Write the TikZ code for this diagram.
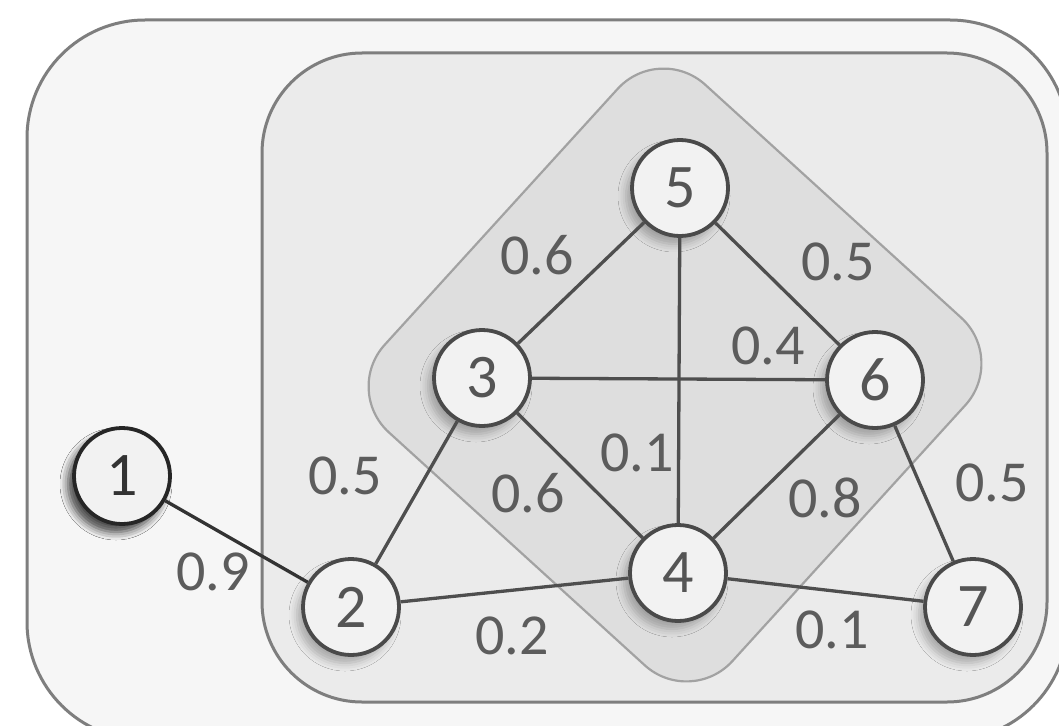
\documentclass[tikz,border=0pt]{standalone}
\usepackage{fontspec}
\setmainfont{Carlito}
\usetikzlibrary{shadows.blur}
\definecolor{outerfill}{HTML}{F6F6F6}
\definecolor{innerfill}{HTML}{EBEBEB}
\definecolor{diamondfill}{HTML}{DEDEDE}
\definecolor{boxline}{HTML}{7E7E7E}
\definecolor{diamondline}{HTML}{A2A2A2}
\definecolor{nodefill}{HTML}{F2F2F2}
\definecolor{nodeline}{HTML}{4A4A4A}
\definecolor{linkcolor}{HTML}{4E4E4E}
\definecolor{numtext}{HTML}{555555}
\definecolor{labeltext}{HTML}{5C5C5C}
\begin{document}
\begin{tikzpicture}[x=1pt,y=-1pt,
  region/.style={draw=boxline, line width=3pt},
  vertex/.style={circle, draw=nodeline, line width=3.8pt, fill=nodefill,
    minimum size=96pt, inner sep=0pt, text=numtext,
    font=\fontsize{62}{62}\selectfont,
    blur shadow={shadow xshift=-6pt, shadow yshift=-8pt,
      shadow blur radius=8pt, shadow opacity=28}},
  link/.style={draw=linkcolor, line width=3.3pt},
  weight/.style={text=labeltext, font=\fontsize{58}{58}\selectfont, inner sep=0pt},
]
\useasboundingbox (0,0) rectangle (1059,725);
\clip (0,0) rectangle (1059,725);
\fill[white] (0,0) rectangle (1059,725);

% nested regions
\draw[region, fill=outerfill, rounded corners=118pt] (27,20) rectangle (1068,740);
\draw[region, fill=innerfill, rounded corners=100pt] (262,53) rectangle (1047,702);
\draw[draw=diamondline, line width=2.2pt, fill=diamondfill, rounded corners=62pt]
  (659.4,43) -- (1007,359.4) -- (690.6,707) -- (343,390.6) -- cycle;

% vertices
\node[vertex, draw=black!85, text=black!80, blur shadow={shadow xshift=-6pt, shadow yshift=-8pt, shadow blur radius=8pt, shadow opacity=45}] (n1) at (122,476) {1};
\node[vertex] (n2) at (351,607) {2};
\node[vertex] (n3) at (482,378) {3};
\node[vertex] (n4) at (678,573) {4};
\node[vertex] (n5) at (680,188) {5};
\node[vertex] (n6) at (875,380) {6};
\node[vertex] (n7) at (973,607) {7};

% connections between vertex borders
\path[link, draw=black!80] (n1) -- (n2);
\path[link] (n2) -- (n3);
\path[link] (n2) -- (n4);
\path[link] (n3) -- (n5);
\path[link] (n3) -- (n6);
\path[link] (n3) -- (n4);
\path[link] (n5) -- (n6);
\path[link] (n5) -- (n4);
\path[link] (n6) -- (n4);
\path[link] (n6) -- (n7);
\path[link] (n4) -- (n7);

% weights
\node[weight] (w35) at (537,255) {0.6};
\node[weight] (w56) at (838,262) {0.5};
\node[weight] (w36) at (768,346) {0.4};
\node[weight] (w23) at (345,476) {0.5};
\node[weight] (w34) at (528,493) {0.6};
\node[weight] (w54) at (637,453) {0.1};
\node[weight] (w64) at (825,498) {0.8};
\node[weight] (w67) at (992,483) {0.5};
\node[weight] (w12) at (213,572) {0.9};
\node[weight] (w24) at (512,636) {0.2};
\node[weight] (w47) at (832,630) {0.1};
\end{tikzpicture}
\end{document}
